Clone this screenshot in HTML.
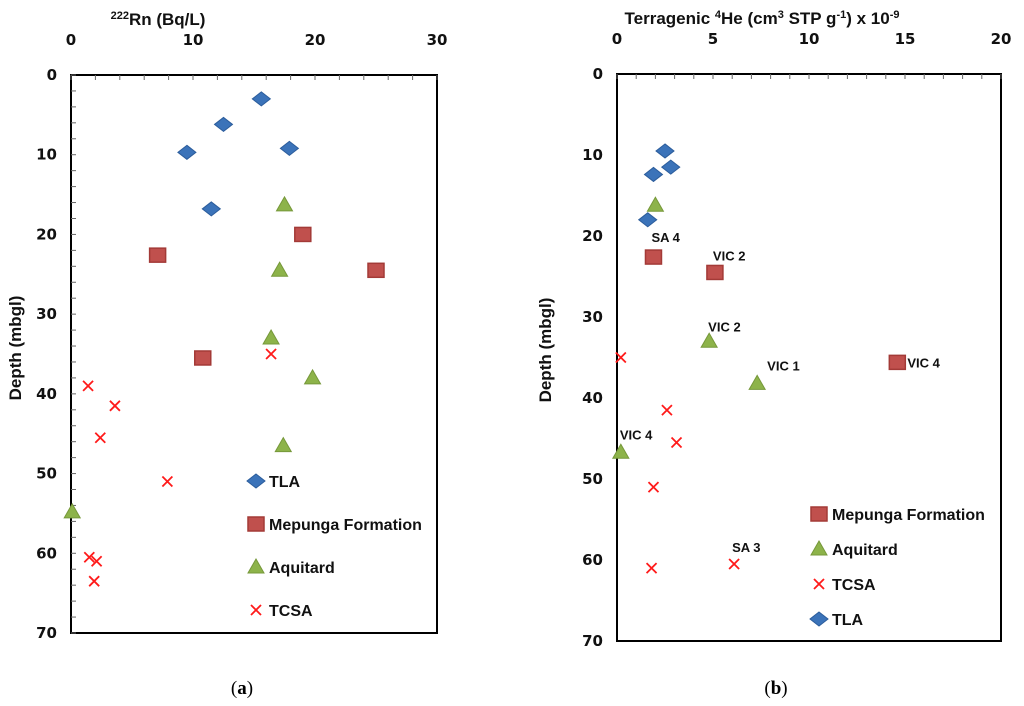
<!DOCTYPE html>
<html><head><meta charset="utf-8"><style>
body{margin:0;background:#fff;}
svg{display:block;font-family:"Liberation Sans",sans-serif;}
.t{font-weight:bold;font-size:15px;fill:#111;font-family:"DejaVu Sans",sans-serif;}
.ti{font-weight:bold;font-size:17px;fill:#111;}
.lg{font-weight:bold;font-size:16px;fill:#111;}
.an{font-weight:bold;font-size:13px;fill:#111;}
</style></head><body>
<svg id="svg" width="1024" height="706" viewBox="0 0 1024 706">
<text x="158" y="25" class="ti" text-anchor="middle"><tspan font-size="11" dy="-6">222</tspan><tspan dy="6">Rn  (Bq/L)</tspan></text>
<text x="21" y="348" class="ti" text-anchor="middle" transform="rotate(-90 21 348)">Depth (mbgl)</text>
<text x="762" y="24" class="ti" text-anchor="middle">Terragenic <tspan font-size="11" dy="-6">4</tspan><tspan dy="6">He (cm</tspan><tspan font-size="11" dy="-6">3</tspan><tspan dy="6"> STP g</tspan><tspan font-size="11" dy="-6">-1</tspan><tspan dy="6">) x 10</tspan><tspan font-size="11" dy="-6">-9</tspan></text>
<text x="551" y="350" class="ti" text-anchor="middle" transform="rotate(-90 551 350)">Depth (mbgl)</text>
<text x="242" y="694" font-family="Liberation Serif" font-size="19" text-anchor="middle">(<tspan font-weight="bold">a</tspan>)</text>
<text x="776" y="694" font-family="Liberation Serif" font-size="19" text-anchor="middle">(<tspan font-weight="bold">b</tspan>)</text>
<g id="ga"></g><g id="gb"></g>
</svg>
<script>
// Chart A: 222Rn
const aXTicks=[0,10,20,30];
const aYTicks=[0,10,20,30,40,50,60,70];
const aTLA_x=[15.6,12.5,9.5,17.9,11.5];
const aTLA_y=[3,6.2,9.7,9.2,16.8];
const aMep_x=[19,7.1,25,10.8];
const aMep_y=[20,22.6,24.5,35.5];
const aAq_x=[17.5,17.1,16.4,19.8,17.4,0.1];
const aAq_y=[16.3,24.5,33,38,46.5,54.8];
const aTC_x=[16.4,1.4,3.6,2.4,7.9,1.5,2.1,1.9];
const aTC_y=[35,39,41.5,45.5,51,60.5,61,63.5];
// Chart B: 4He
const bXTicks=[0,5,10,15,20];
const bYTicks=[0,10,20,30,40,50,60,70];
const bTLA_x=[2.5,2.8,1.9,1.6];
const bTLA_y=[9.5,11.5,12.4,18];
const bMep_x=[1.9,5.1,14.6];
const bMep_y=[22.6,24.5,35.6];
const bAq_x=[2.0,4.8,7.3,0.2];
const bAq_y=[16.2,33,38.2,46.7];
const bTC_x=[0.2,2.6,3.1,1.9,6.1,1.8];
const bTC_y=[35,41.5,45.5,51,60.5,61];
const bLabels=["SA 4","VIC 2","VIC 2","VIC 1","VIC 4","VIC 4","SA 3"];
const bLabX=[1.9,5.1,4.8,7.3,14.6,0.2,6.1];
const bLabY=[22.6,24.5,33,38.2,35.6,46.7,60.5];
const bLabDx=[-2,-2,-1,10,10,-1,-2];
const bLabDy=[-15,-12,-10,-13,5,-13,-12];

const NS='http://www.w3.org/2000/svg';
function mk(g,tag,at){const e=document.createElementNS(NS,tag);for(const k in at)e.setAttribute(k,at[k]);g.appendChild(e);return e;}
function marker(g,type,cx,cy,name){
  let e;
  if(type==='d'){e=mk(g,'polygon',{points:`${cx},${cy-7} ${cx+9},${cy} ${cx},${cy+7} ${cx-9},${cy}`,fill:'#3b73b9',stroke:'#2c5d9c','stroke-width':1});}
  else if(type==='s'){e=mk(g,'rect',{x:cx-8,y:cy-7,width:16,height:14,fill:'#c0504d',stroke:'#a33a37','stroke-width':1.5});}
  else if(type==='t'){e=mk(g,'polygon',{points:`${cx},${cy-8} ${cx+8},${cy+6} ${cx-8},${cy+6}`,fill:'#8db34a',stroke:'#76983a','stroke-width':1});}
  else {e=mk(g,'path',{d:`M${cx-5} ${cy-5}L${cx+5} ${cy+5}M${cx+5} ${cy-5}L${cx-5} ${cy+5}`,stroke:'#ff1a1a','stroke-width':1.8,fill:'none'});}
  
  
}
function chart(g,o){
  const X=v=>o.x0+(v-o.xmin)/(o.xmax-o.xmin)*(o.x1-o.x0);
  const Y=v=>o.y0+v/70*(o.y1-o.y0);
  const f=mk(g,'rect',{x:o.x0,y:o.y0,width:o.x1-o.x0,height:o.y1-o.y0,fill:'none',stroke:'#000','stroke-width':2});
  
  
  for(let v=o.xmin;v<=o.xmax+1e-9;v+=o.xminor){const t=mk(g,'line',{x1:X(v),x2:X(v),y1:o.y0,y2:o.y0+5,stroke:'#666','stroke-width':1});}
  if(o.yminor){for(let v=0;v<=70;v+=o.yminor){const t=mk(g,'line',{x1:o.x0,x2:o.x0+5,y1:Y(v),y2:Y(v),stroke:'#666','stroke-width':1});}}
  o.xt.forEach(v=>{const t=mk(g,'text',{x:X(v),y:o.y0-30,'text-anchor':'middle',class:'t'});t.textContent=v;});
  o.yt.forEach(v=>{const t=mk(g,'text',{x:o.x0-14,y:Y(v)+5,'text-anchor':'end',class:'t'});t.textContent=v;});
  o.series.forEach(s=>{s.xs.forEach((v,i)=>marker(g,s.type,X(v),Y(s.ys[i]),s.name+'-point'));});
  o.legend.forEach((l,i)=>{const yy=o.ly+i*o.lstep;marker(g,l.type,o.lx,yy,l.name+'-legend-marker');const t=mk(g,'text',{x:o.lx+13,y:yy+6,class:'lg'});t.textContent=l.label;});
  return {X,Y};
}
chart(document.getElementById('ga'),{x0:71,x1:437,y0:75,y1:633,xmin:0,xmax:30,xminor:2,yminor:2,xt:aXTicks,yt:aYTicks,
 series:[{type:'s',xs:aMep_x,ys:aMep_y,name:'mepunga'},{type:'t',xs:aAq_x,ys:aAq_y,name:'aquitard'},{type:'d',xs:aTLA_x,ys:aTLA_y,name:'tla'},{type:'x',xs:aTC_x,ys:aTC_y,name:'tcsa'}],
 legend:[{type:'d',label:'TLA',name:'tla'},{type:'s',label:'Mepunga Formation',name:'mepunga'},{type:'t',label:'Aquitard',name:'aquitard'},{type:'x',label:'TCSA',name:'tcsa'}],lx:256,ly:481,lstep:43});
const gb=document.getElementById('gb');
const B=chart(gb,{x0:617,x1:1001,y0:74,y1:641,xmin:0,xmax:20,xminor:1,yminor:0,xt:bXTicks,yt:bYTicks,
 series:[{type:'s',xs:bMep_x,ys:bMep_y,name:'mepunga'},{type:'t',xs:bAq_x,ys:bAq_y,name:'aquitard'},{type:'d',xs:bTLA_x,ys:bTLA_y,name:'tla'},{type:'x',xs:bTC_x,ys:bTC_y,name:'tcsa'}],
 legend:[{type:'s',label:'Mepunga Formation',name:'mepunga'},{type:'t',label:'Aquitard',name:'aquitard'},{type:'x',label:'TCSA',name:'tcsa'},{type:'d',label:'TLA',name:'tla'}],lx:819,ly:514,lstep:35});
bLabels.forEach((s,i)=>{const t=mk(gb,'text',{x:B.X(bLabX[i])+bLabDx[i],y:B.Y(bLabY[i])+bLabDy[i],class:'an'});t.textContent=s;
 
 });
</script>
</body></html>
